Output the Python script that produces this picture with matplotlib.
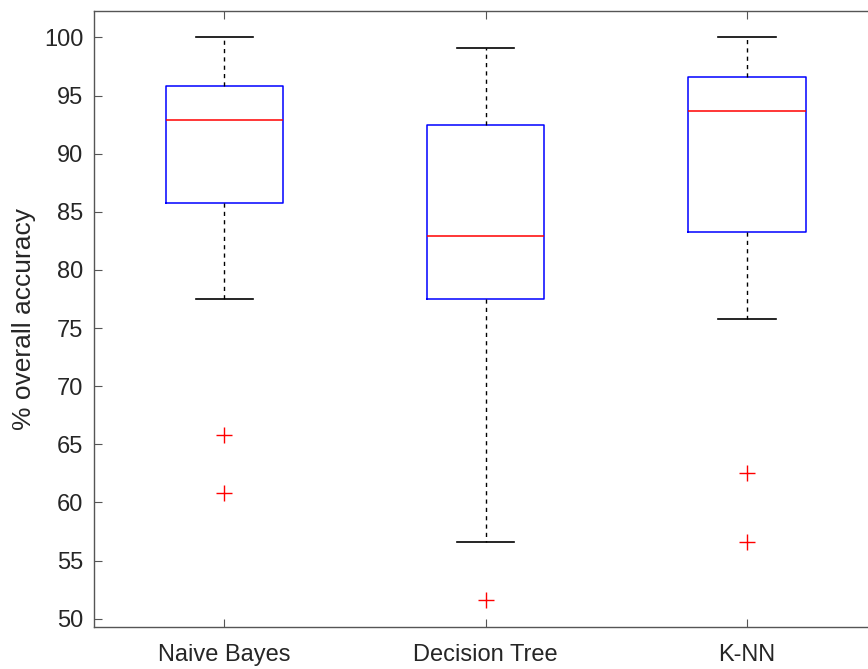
import numpy as np
import matplotlib
matplotlib.use("Agg")
import matplotlib.pyplot as plt

plt.rcParams.update({"font.family": ["Liberation Sans", "DejaVu Sans"], "font.size": 17})

classifiers = ["Naive Bayes", "Decision Tree", "K-NN"]
whisker_low = [77.5, 56.6, 75.8]
q1 = [85.8, 77.5, 83.3]
median = [92.9, 82.9, 93.7]
q3 = [95.8, 92.5, 96.6]
whisker_high = [100.0, 99.1, 100.0]
outliers = [[65.8, 60.8], [51.6], [62.5, 56.6]]

stats = [dict(label=c, whislo=lo, q1=a, med=m, q3=b, whishi=hi, fliers=f)
         for c, lo, a, m, b, hi, f in zip(classifiers, whisker_low, q1, median, q3, whisker_high, outliers)]

fig = plt.figure(figsize=(8.68, 6.69), dpi=100)
ax = fig.add_axes([0.108, 0.063, 0.903, 0.921])
ax.bxp(stats, positions=[1, 2, 3], widths=0.45, showfliers=True,
       boxprops=dict(color="#0000ff", lw=1.1),
       medianprops=dict(color="#ff0000", lw=1.1),
       whiskerprops=dict(color="black", lw=1.0, ls=(0, (3, 3))),
       capprops=dict(color="black", lw=1.2),
       capwidths=0.22,
       flierprops=dict(marker="+", markeredgecolor="#ff0000", markersize=11, markeredgewidth=1.0, ls="none"))

ax.set_xlim(0.5, 3.5)
ax.set_ylim(49.3, 102.3)
ax.set_yticks(np.arange(50, 101, 5))
ax.set_ylabel("% overall accuracy", color="#262626", fontsize=19, labelpad=5.5)
for s in ax.spines.values():
    s.set_color("#555555"); s.set_linewidth(1.0)
ax.tick_params(direction="in", top=True, right=True, length=6, color="#555555", labelcolor="#262626", labelsize=17)
ax.tick_params(axis="y", pad=7.5)
ax.tick_params(axis="x", pad=12)
fig.savefig("out.png", dpi=100)
